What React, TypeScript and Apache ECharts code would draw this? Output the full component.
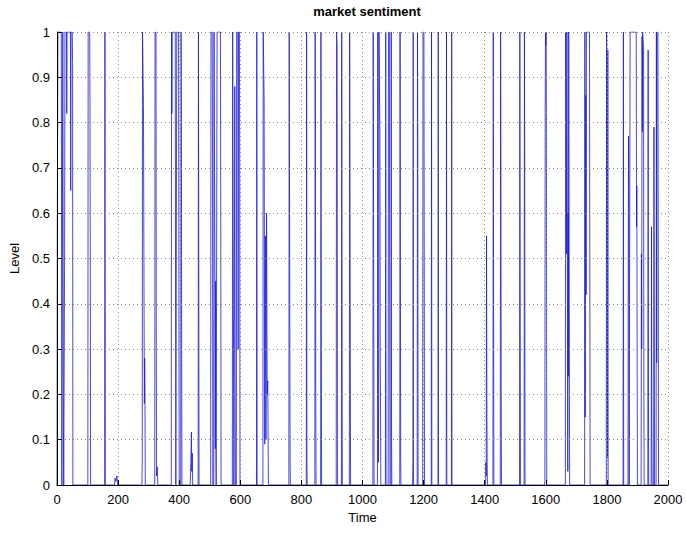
import React, { useEffect, useRef } from "react";
import * as echarts from "echarts";

const chartTitle = "market sentiment";
const xName = "Time";
const yName = "Level";

const times: number[] = [
  0, 1, 3, 14, 15, 16, 18, 19, 21, 22, 24, 25, 26, 31, 32, 33, 44, 45, 46, 50, 51, 52,
  101, 102, 107, 108, 109, 110,
  156, 157, 158,
  188, 190, 193, 196, 199,
  278, 279, 280, 282, 283, 285, 286, 287, 288, 289,
  320, 321, 324, 325, 326, 328, 330,
  374, 375, 376, 377, 387, 388, 389, 391, 392, 398, 399, 400, 405, 406, 407, 408, 409,
  436, 438, 440, 441, 443, 444,
  462, 463, 464, 465,
  503, 504, 508, 509, 510, 513, 514, 516, 517, 518, 519, 520, 521, 523, 524, 535, 536, 537,
  574, 575, 577, 578, 579, 581, 582, 583, 584, 587, 588, 592, 593, 594, 597, 598, 599,
  653, 654, 655,
  674, 675, 677, 678, 680, 682, 684, 686, 688, 690, 692,
  759, 760, 762, 763, 764,
  816, 817, 818, 819,
  844, 845, 846, 847, 848,
  863, 864, 865, 866,
  914, 915, 917, 918, 931, 932, 933, 934,
  957, 958, 960, 961,
  1034, 1035, 1037, 1038, 1049, 1050, 1051, 1052, 1053, 1054, 1056, 1057, 1058, 1059, 1060,
  1075, 1076, 1077,
  1084, 1085, 1088, 1089, 1090, 1093, 1094, 1095, 1096,
  1122, 1123, 1124, 1125, 1126,
  1164, 1165, 1166, 1167, 1179, 1180, 1181, 1182, 1197, 1198, 1201, 1202, 1203,
  1225, 1226, 1227, 1247, 1248, 1249, 1274, 1275, 1276, 1291, 1292, 1293,
  1403, 1404, 1405, 1406, 1407, 1408, 1409,
  1427, 1428, 1429, 1430,
  1451, 1452, 1453, 1454, 1455,
  1514, 1515, 1516, 1517,
  1529, 1530, 1531, 1532,
  1596, 1597, 1598, 1599, 1600, 1601, 1602, 1603,
  1664, 1665, 1667, 1668, 1669, 1671, 1672, 1673, 1674, 1675, 1677, 1678,
  1727, 1728, 1729, 1730, 1731, 1732, 1733, 1743, 1744, 1745,
  1798, 1799, 1801, 1802, 1803, 1804,
  1853, 1854, 1855,
  1869, 1870, 1871, 1872, 1873, 1875, 1876, 1896, 1897, 1898, 1899, 1900, 1912, 1913, 1914, 1915,
  1916, 1917, 1919, 1920, 1921, 1922, 1934, 1935, 1936, 1937, 1945, 1946, 1947, 1948, 1953, 1954,
  1955, 1956, 1961, 1962, 1963, 1964, 1967, 1968, 1969, 2000,
];

const levels: number[] = [
  0, 0.56, 1, 1, 0.55, 0, 0, 1, 0.15, 0, 0, 0.52, 1, 1, 0.82, 1, 1, 0.65, 1, 1, 0.93, 0,
  0, 1, 1, 0.83, 0.48, 0,
  0, 1, 0,
  0, 0.015, 0.008, 0.02, 0,
  0, 0.05, 1, 1, 0.84, 0.38, 0.18, 0.28, 0.2, 0,
  0, 1, 1, 0.3, 0.02, 0.04, 0,
  0, 1, 0.82, 1, 1, 0.47, 0, 0, 1, 1, 0.47, 0, 0, 1, 0.87, 0.32, 0,
  0, 0.05, 0.117, 0.03, 0.07, 0,
  0, 1, 0.52, 0,
  0, 1, 1, 0.78, 0, 0, 1, 1, 0.45, 0.08, 0.45, 0.1, 0, 0, 1, 1, 0.61, 0,
  0, 1, 1, 0.24, 0, 0, 0.88, 0.24, 0, 0, 1, 1, 0.3, 1, 1, 0.71, 0,
  0, 1, 0,
  0, 1, 1, 0.85, 0.09, 0.55, 0.1, 0.6, 0.2, 0.23, 0,
  0, 1, 1, 0.06, 0,
  0, 1, 0.05, 0,
  0, 1, 0.74, 0.2, 0,
  0, 1, 0.49, 0,
  0, 1, 0.97, 0, 0, 1, 0.49, 0,
  0, 1, 1, 0,
  0, 1, 1, 0, 0, 1, 0.18, 0.05, 0.2, 1, 1, 0.77, 0.29, 0.18, 0,
  0, 1, 0,
  0, 1, 1, 0.37, 0, 0, 1, 0.12, 0,
  0, 1, 0.51, 0.05, 0,
  0, 0.05, 1, 0, 0, 1, 0.76, 0, 0, 1, 1, 0.53, 0,
  0, 1, 0, 0, 1, 0, 0, 1, 0, 0, 1, 0,
  0, 0.05, 0.02, 0.55, 0.2, 0.05, 0,
  0, 1, 0.45, 0,
  0, 1, 0.73, 0.22, 0,
  0, 1, 0.49, 0,
  0, 1, 0.7, 0,
  0, 0.01, 0.82, 1, 0.97, 1, 0.82, 0,
  0, 1, 1, 0.51, 1, 1, 0.03, 0.6, 0.24, 1, 1, 0,
  0, 1, 0.15, 0.68, 0.86, 0.42, 1, 1, 0.52, 0,
  0, 1, 1, 0.06, 0.96, 0,
  0, 1, 0,
  0, 0.53, 0.77, 0.53, 0, 0, 1, 1, 0.57, 0.66, 0.29, 0, 0, 0.51, 0.3, 0.99,
  0.78, 1, 1, 0.96, 0.19, 0, 0, 0.96, 0.19, 0, 0, 0.57, 0.15, 0, 0, 0.79,
  0.37, 0, 0, 1, 0.27, 1, 1, 0.56, 0, 0,
];

const FONT = "'Liberation Sans', Arial, Helvetica, sans-serif";

export default function App() {
  const ref = useRef<HTMLDivElement>(null);

  useEffect(() => {
    if (!ref.current) return;
    const chart = echarts.init(ref.current, undefined, { renderer: "svg" });
    const n = Math.min(times.length, levels.length);
    const data: [number, number][] = [];
    for (let i = 0; i < n; i++) data.push([times[i], levels[i]]);

    const gridLine = { show: true, lineStyle: { color: "#8a8a8a", width: 1, type: [1, 3] as number[] } };

    chart.setOption({
      animation: false,
      backgroundColor: "#ffffff",
      title: {
        text: chartTitle,
        left: 362,
        top: 0,
        textAlign: "center",
        textStyle: { fontFamily: FONT, fontSize: 13, fontWeight: "bold", color: "#000" },
      },
      grid: { left: 57, top: 32, width: 611, height: 453, containLabel: false },
      xAxis: {
        type: "value",
        min: 0,
        max: 2000,
        interval: 200,
        z: 5,
        name: xName,
        nameLocation: "middle",
        nameGap: 25,
        nameTextStyle: { fontFamily: FONT, fontSize: 13, color: "#000" },
        axisLine: { show: true, onZero: false, lineStyle: { color: "#000", width: 1 } },
        axisTick: { show: true, inside: true, length: 5, lineStyle: { color: "#000" } },
        axisLabel: {
          fontFamily: FONT,
          fontSize: 13,
          color: "#000",
          margin: 8,
          formatter: (v: number) => String(v),
        },
        splitLine: gridLine,
      },
      yAxis: {
        type: "value",
        min: 0,
        max: 1,
        interval: 0.1,
        z: 5,
        name: yName,
        nameLocation: "middle",
        nameGap: 30,
        nameTextStyle: { fontFamily: FONT, fontSize: 13, color: "#000" },
        axisLine: { show: true, onZero: false, lineStyle: { color: "#000", width: 1 } },
        axisTick: { show: true, inside: true, length: 5, lineStyle: { color: "#000" } },
        axisLabel: {
          fontFamily: FONT,
          fontSize: 13,
          color: "#000",
          margin: 7,
          formatter: (v: number) => String(Math.round(v * 10) / 10),
        },
        splitLine: gridLine,
      },
      series: [
        {
          type: "line",
          data,
          showSymbol: false,
          symbol: "none",
          clip: true,
          z: 2,
          lineStyle: { color: "#1a1ae0", width: 0.8 },
          itemStyle: { color: "#1a1ae0" },
        },
      ],
    });
    return () => chart.dispose();
  }, []);

  return (
    <div
      ref={ref}
      style={{ position: "fixed", left: 0, top: 0, width: 686, height: 558, background: "#fff" }}
    />
  );
}
